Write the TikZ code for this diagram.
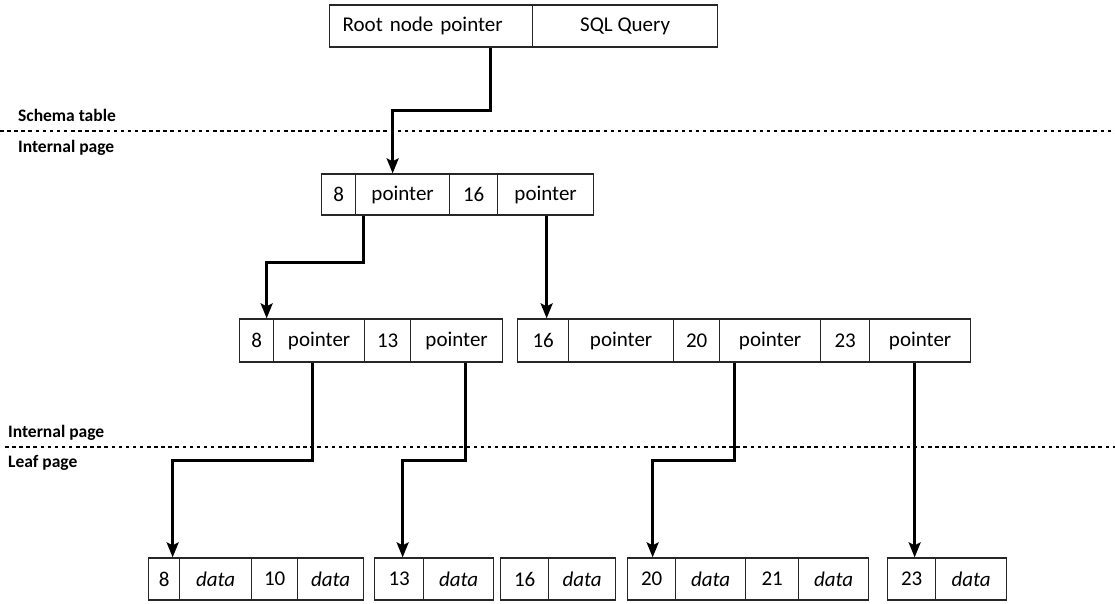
\documentclass[tikz,border=0pt]{standalone}
\usepackage{fontspec}
\setmainfont{Carlito}
\usetikzlibrary{arrows.meta}
\tikzset{
  cell/.style={draw=black!85, line width=1.3pt, inner sep=0pt, anchor=west,
    font=\fontsize{21}{25}\selectfont},
  rootrow/.style={cell, minimum height=42pt},
  introw/.style={cell, minimum height=41pt},
  midrow/.style={cell, minimum height=43pt},
  leafrow/.style={cell, minimum height=42pt},
  conn/.style={line width=2.6pt, -{Stealth[length=15pt,width=12pt,inset=3pt]}},
  divider/.style={line width=2.6pt, dash pattern=on 3.5pt off 3.6pt},
  lbl/.style={anchor=west, inner sep=0pt, font=\fontsize{17.5}{20}\selectfont\bfseries}
}
\begin{document}
\begin{tikzpicture}[x=1pt,y=-1pt]
\useasboundingbox (0,0) rectangle (1115,604);
% root (schema table)
\node[rootrow, minimum width=203pt, text width=177pt, align=left] (rp) at (329,26) {Root node pointer};
\node[rootrow, minimum width=185pt] (rq) at (532,26) {SQL Query};
% internal page, top
\node[introw, minimum width=34pt] (ik1) at (321,194.5) {8};
\node[introw, minimum width=94pt] (ip1) at (355,194.5) {pointer};
\node[introw, minimum width=48pt] (ik2) at (449,194.5) {16};
\node[introw, minimum width=96pt] (ip2) at (497,194.5) {pointer};
% internal page, second level left
\node[midrow, minimum width=34pt] (ak1) at (239,340.5) {8};
\node[midrow, minimum width=91pt] (ap1) at (273,340.5) {pointer};
\node[midrow, minimum width=46pt] (ak2) at (364,340.5) {13};
\node[midrow, minimum width=92pt] (ap2) at (410,340.5) {pointer};
% second level right
\node[midrow, minimum width=51pt] (bk1) at (517,340.5) {16};
\node[midrow, minimum width=105pt] (bp1) at (568,340.5) {pointer};
\node[midrow, minimum width=46pt] (bk2) at (673,340.5) {20};
\node[midrow, minimum width=101pt] (bp2) at (719,340.5) {pointer};
\node[midrow, minimum width=49pt] (bk3) at (820,340.5) {23};
\node[midrow, minimum width=101pt] (bp3) at (869,340.5) {pointer};
% leaf pages
\node[leafrow, minimum width=31pt] (l8) at (148,579) {8};
\node[leafrow, minimum width=72pt] (l8d) at (179,579) {\itshape data};
\node[leafrow, minimum width=46pt] (l10) at (251,579) {10};
\node[leafrow, minimum width=66pt] (l10d) at (297,579) {\itshape data};
\node[leafrow, minimum width=49pt] (l13) at (374,579) {13};
\node[leafrow, minimum width=70pt] (l13d) at (423,579) {\itshape data};
\node[leafrow, minimum width=48pt] (l16) at (500,579) {16};
\node[leafrow, minimum width=67pt] (l16d) at (548,579) {\itshape data};
\node[leafrow, minimum width=48pt] (l20) at (627,579) {20};
\node[leafrow, minimum width=70pt] (l20d) at (675,579) {\itshape data};
\node[leafrow, minimum width=53pt] (l21) at (745,579) {21};
\node[leafrow, minimum width=70pt] (l21d) at (798,579) {\itshape data};
\node[leafrow, minimum width=48pt] (l23) at (887,579) {23};
\node[leafrow, minimum width=71pt] (l23d) at (935,579) {\itshape data};
% dividers and labels
\coordinate (d1a) at (0,131); \coordinate (d1b) at (1115,131);
\coordinate (d2a) at (5,447); \coordinate (d2b) at (1115,447);
\draw[divider] (d1a) -- (d1b);
\draw[divider] (d2a) -- (d2b);
\node[lbl] (t1) at (18,115) {Schema table};
\node[lbl] (t2) at (18,148) {Internal page};
\node[lbl] (t3) at (8,433) {Internal page};
\node[lbl] (t4) at (8,463) {Leaf page};
% connectors
\draw[conn] ([xshift=59.5pt]rp.south) -- ++(0,63) -| ([xshift=-10pt]ip1.north);
\draw[conn] ([xshift=-39pt]ip1.south) -- ++(0,47) -| ([xshift=10pt]ak1.north);
\draw[conn] ([xshift=1pt]ip2.south) -- ([xshift=1pt]ip2.south |- bk1.north);
\draw[conn] ([xshift=-6.5pt]ap1.south) -- ++(0,98) -| ([xshift=8.5pt]l8.north);
\draw[conn] ([xshift=9pt]ap2.south) -- ++(0,98) -| ([xshift=3.5pt]l13.north);
\draw[conn] ([xshift=-35.5pt]bp2.south) -- ++(0,98) -| ([xshift=1pt]l20.north);
\draw[conn] ([xshift=-5.5pt]bp3.south) -- ([xshift=-5.5pt]bp3.south |- l23.north);
\end{tikzpicture}
\end{document}
